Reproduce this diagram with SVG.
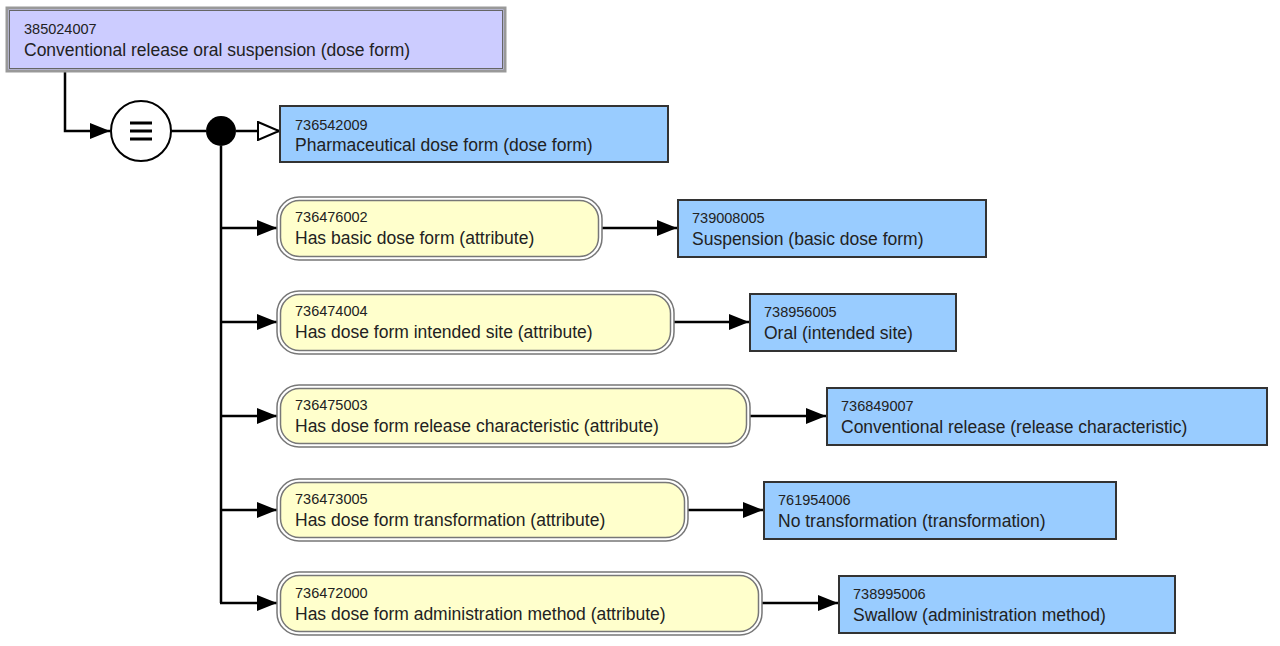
<svg xmlns="http://www.w3.org/2000/svg" width="1280" height="646" viewBox="0 0 1280 646">
<defs>
<marker id="arr" viewBox="0 0 20 16" refX="20" refY="8" markerWidth="20" markerHeight="16" markerUnits="userSpaceOnUse" orient="auto">
<path d="M0,0 L20,8 L0,16 Z" fill="#000"/>
</marker>
<marker id="open" viewBox="0 0 24 20" refX="22" refY="10" markerWidth="24" markerHeight="20" markerUnits="userSpaceOnUse" orient="auto">
<path d="M1,1 L22,10 L1,19 Z" fill="#fff" stroke="#000" stroke-width="2"/>
</marker>
<style>
text{font-family:"Liberation Sans",Arial,sans-serif;fill:#222}
.id{font-size:14.5px}
.nm{font-size:17.5px}
.val{fill:#99ccff;stroke:#333;stroke-width:2}
.attO{fill:#fff;stroke:#777;stroke-width:1.5}
.attI{fill:#ffffcc;stroke:#777;stroke-width:1.5}
.ln{fill:none;stroke:#000;stroke-width:2.5}
</style>
</defs>
<g id="connectors">
<path class="ln" d="M65,71 V131 H110" marker-end="url(#arr)"/>
<path class="ln" d="M171,131 H206"/>
<path class="ln" d="M236,131 H279" marker-end="url(#open)"/>
<path class="ln" d="M221,146 V603"/>
<path class="ln" d="M221,228 H277" marker-end="url(#arr)"/>
<path class="ln" d="M221,322 H277" marker-end="url(#arr)"/>
<path class="ln" d="M221,416 H277" marker-end="url(#arr)"/>
<path class="ln" d="M221,510 H277" marker-end="url(#arr)"/>
<path class="ln" d="M220,603 H277" marker-end="url(#arr)"/>
<path class="ln" d="M602,228 H677" marker-end="url(#arr)"/>
<path class="ln" d="M674,322 H749" marker-end="url(#arr)"/>
<path class="ln" d="M750,416 H826" marker-end="url(#arr)"/>
<path class="ln" d="M688,510 H763" marker-end="url(#arr)"/>
<path class="ln" d="M762,603 H838" marker-end="url(#arr)"/>
</g>
<g id="n385024007">
<rect x="7" y="8" width="498" height="63" fill="#ccccff" stroke="#999" stroke-width="3"/>
<rect x="9.5" y="10.5" width="493" height="58" fill="none" stroke="#666" stroke-width="1"/>
<text class="id" x="24" y="34">385024007</text>
<text class="nm" x="24" y="56">Conventional release oral suspension (dose form)</text>
</g>
<g id="equiv">
<circle cx="141" cy="131" r="30" fill="#fff" stroke="#000" stroke-width="2"/>
<path d="M130,123 H152 M130,131 H152 M130,139 H152" stroke="#000" stroke-width="3"/>
</g>
<g id="conj">
<circle cx="221" cy="131" r="15" fill="#000"/>
</g>
<g id="n736542009">
<rect class="val" x="280" y="106" width="388" height="56"/>
<text class="id" x="295" y="130">736542009</text>
<text class="nm" x="295" y="151">Pharmaceutical dose form (dose form)</text>
</g>
<g id="a736476002">
<rect class="attO" x="277" y="197" width="325" height="63" rx="22"/>
<rect class="attI" x="280.5" y="200.5" width="318" height="56" rx="19"/>
<text class="id" x="295" y="222">736476002</text>
<text class="nm" x="295" y="244">Has basic dose form (attribute)</text>
</g>
<g id="n739008005">
<rect class="val" x="678" y="200" width="308" height="57"/>
<text class="id" x="692" y="223">739008005</text>
<text class="nm" x="692" y="245">Suspension (basic dose form)</text>
</g>
<g id="a736474004">
<rect class="attO" x="277" y="291" width="397" height="63" rx="22"/>
<rect class="attI" x="280.5" y="294.5" width="390" height="56" rx="19"/>
<text class="id" x="295" y="316">736474004</text>
<text class="nm" x="295" y="338">Has dose form intended site (attribute)</text>
</g>
<g id="n738956005">
<rect class="val" x="750" y="294" width="206" height="57"/>
<text class="id" x="764" y="317">738956005</text>
<text class="nm" x="764" y="339">Oral (intended site)</text>
</g>
<g id="a736475003">
<rect class="attO" x="277" y="385" width="473" height="62" rx="22"/>
<rect class="attI" x="280.5" y="388.5" width="466" height="55" rx="19"/>
<text class="id" x="295" y="410">736475003</text>
<text class="nm" x="295" y="432">Has dose form release characteristic (attribute)</text>
</g>
<g id="n736849007">
<rect class="val" x="827" y="388" width="440" height="57"/>
<text class="id" x="841" y="411">736849007</text>
<text class="nm" x="841" y="433">Conventional release (release characteristic)</text>
</g>
<g id="a736473005">
<rect class="attO" x="277" y="479" width="411" height="62" rx="22"/>
<rect class="attI" x="280.5" y="482.5" width="404" height="55" rx="19"/>
<text class="id" x="295" y="504">736473005</text>
<text class="nm" x="295" y="526">Has dose form transformation (attribute)</text>
</g>
<g id="n761954006">
<rect class="val" x="764" y="482" width="352" height="57"/>
<text class="id" x="778" y="505">761954006</text>
<text class="nm" x="778" y="527">No transformation (transformation)</text>
</g>
<g id="a736472000">
<rect class="attO" x="277" y="572" width="485" height="63" rx="22"/>
<rect class="attI" x="280.5" y="575.5" width="478" height="56" rx="19"/>
<text class="id" x="295" y="598">736472000</text>
<text class="nm" x="295" y="620">Has dose form administration method (attribute)</text>
</g>
<g id="n738995006">
<rect class="val" x="839" y="576" width="336" height="57"/>
<text class="id" x="853" y="599">738995006</text>
<text class="nm" x="853" y="621">Swallow (administration method)</text>
</g>
</svg>
